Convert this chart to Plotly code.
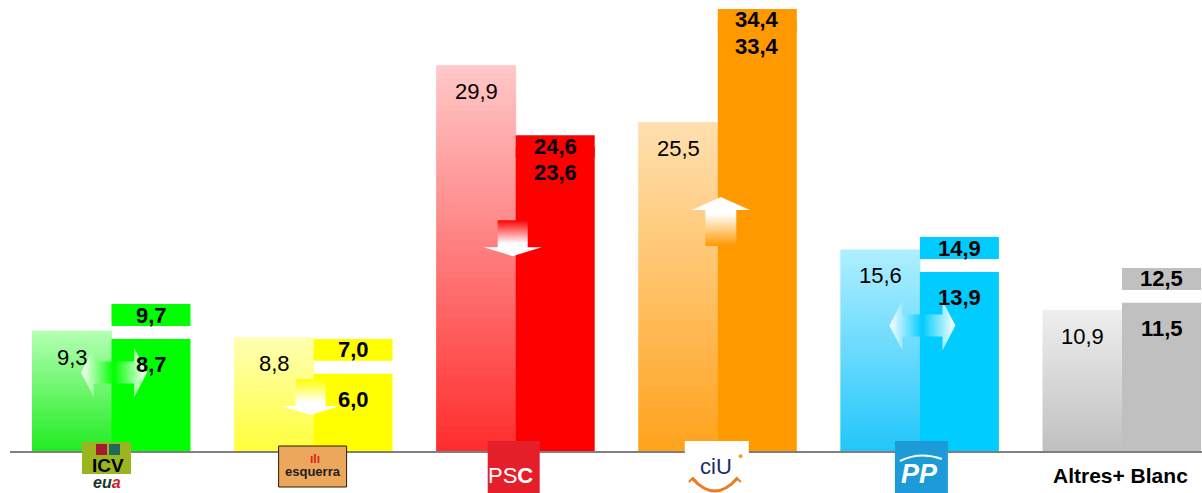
import plotly.graph_objects as go

# ---------------- data ----------------
parties = ["ICV-EUiA", "ERC", "PSC", "CiU", "PP", "Altres+ Blanc"]
prev_result = [9.3, 8.8, 29.9, 25.5, 15.6, 10.9]      # light bars
estimate_low = [8.7, 6.0, 23.6, 33.4, 13.9, 11.5]     # solid bars
estimate_high = [9.7, 7.0, 24.6, 34.4, 14.9, 12.5]    # label boxes
trend = ["both", "down", "down", "up", "both", ""]

# ---------------- style ----------------
solid = ["#00ff00", "#ffff00", "#ff0000", "#ff9900", "#00ccff", "#c0c0c0"]
light_top = [(178, 255, 178), (255, 255, 178), (255, 200, 200), (255, 224, 176), (176, 238, 255), (238, 238, 238)]
light_bot = [(34, 236, 34), (255, 255, 60), (255, 44, 44), (255, 162, 28), (34, 198, 250), (192, 192, 192)]

W, H = 1202, 493
ML, MR, MT, MB = 10, 0, 0, 42
YMAX = 35.0
PXX = 202.1                      # px per category
X0 = -(111.5 - ML) / PXX         # left range
X1 = X0 + (W - ML - MR) / PXX
PLOT_H = H - MT - MB
PLOT_W = W - ML - MR
PXY = PLOT_H / YMAX              # px per unit
BW = 79 / PXX
BOX_H = 1.7
FONT = "Liberation Sans, Arial, sans-serif"

def fmt(v):
    return f"{v:.1f}".replace(".", ",")

fig = go.Figure()

# light bars with vertical gradient (stacked thin slices)
N = 60
xs, bases, hs, cols = [], [], [], []
for i, v in enumerate(prev_result):
    for k in range(N):
        t = (k + 0.5) / N
        c = tuple(round(light_bot[i][j] + (light_top[i][j] - light_bot[i][j]) * t) for j in range(3))
        xs.append(i)
        bases.append(v * k / N)
        hs.append(v / N)
        cols.append(f"rgb{c}")
fig.add_trace(go.Bar(x=xs, y=hs, base=bases, width=BW, offset=-BW,
                     marker=dict(color=cols, line=dict(width=1, color=cols)),
                     hoverinfo="skip", showlegend=False))

# solid bars (lower estimate)
xi = list(range(len(parties)))
fig.add_trace(go.Bar(x=xi, y=estimate_low, width=BW, offset=0,
                     marker=dict(color=solid, line=dict(width=0)),
                     hoverinfo="skip", showlegend=False))

# label boxes (upper estimate): tall bars carry the box on their top edge
box_base = [lo - 0.8 if lo > 20 else hi for lo, hi in zip(estimate_low, estimate_high)]
fig.add_trace(go.Bar(x=xi, y=[BOX_H] * len(xi), base=box_base, width=BW, offset=0,
                     marker=dict(color=solid, line=dict(width=0)),
                     hoverinfo="skip", showlegend=False))

# arrows
def poly(cx, cy, pts):
    return ([cx + px / PXX for px, py in pts], [cy + py / PXY for px, py in pts])

down_pts = [(-15, 18), (15, 18), (15, -9), (29, -9), (0, -18), (-29, -9), (-15, -9), (-15, 18)]
up_pts = [(-15.5, -25), (15.5, -25), (15.5, 11), (29, 11), (0, 24), (-29, 11), (-15.5, 11), (-15.5, -25)]
both_pts = [(-33, 0), (-20, 25), (-20, 11), (20, 11), (20, 25), (33, 0), (20, -25), (20, -11),
            (-20, -11), (-20, -25), (-33, 0)]

for i, tr in enumerate(trend):
    if not tr:
        continue
    cy = 0.7 * min(prev_result[i], estimate_low[i])
    if tr == "down":
        ax, ay = poly(i - 3 / PXX, cy, down_pts)
        grad = dict(type="vertical", colorscale=[[0, "white"], [0.35, "white"], [1, solid[i]]])
    elif tr == "up":
        ax, ay = poly(i + 3 / PXX, cy, up_pts)
        grad = dict(type="vertical", colorscale=[[0, solid[i]], [0.65, "white"], [1, "white"]])
    else:
        ax, ay = poly(i + 2.5 / PXX, cy, both_pts)
        grad = dict(type="horizontal", colorscale=[[0, "white"], [0.5, solid[i]], [1, "white"]])
    fig.add_trace(go.Scatter(x=ax, y=ay, mode="lines", fill="toself", fillgradient=grad,
                             line=dict(width=0), hoverinfo="skip", showlegend=False))

ann = []
for i in xi:
    ann.append(dict(x=i - BW / 2, y=prev_result[i], yshift=-26, text=fmt(prev_result[i]),
                    showarrow=False, yanchor="middle", font=dict(size=22, color="black", family=FONT)))
    ann.append(dict(x=i + BW / 2, y=estimate_low[i], yshift=-26, text=f"<b>{fmt(estimate_low[i])}</b>",
                    showarrow=False, yanchor="middle", font=dict(size=22, color="black", family=FONT)))
    ann.append(dict(x=i + BW / 2, y=box_base[i] + BOX_H / 2, text=f"<b>{fmt(estimate_high[i])}</b>",
                    showarrow=False, yanchor="middle", font=dict(size=22, color="black", family=FONT)))

def pxp(i, dx):
    # category i plus a pixel offset, in paper units
    return (111.5 - ML + i * PXX + dx) / PLOT_W

def pyp(py):
    return (PLOT_H - py) / PLOT_H

def rect(i, left, top, w, h, color, border=None):
    return dict(type="rect", xref="paper", yref="paper", layer="above",
                x0=pxp(i, left), x1=pxp(i, left + w), y0=pyp(top + h), y1=pyp(top),
                fillcolor=color, line=dict(width=1 if border else 0, color=border or color))

def txt(i, xs, cy, text, size, color, family=FONT):
    return dict(x=i, xref="x", y=0, yref="paper", xshift=xs, yshift=PLOT_H - cy, yanchor="middle",
                text=text, showarrow=False, font=dict(size=size, color=color, family=family))

def curve(i, p0, pc, p1, color, width):
    return dict(type="path", xref="paper", yref="paper", layer="above",
                path=f"M {pxp(i, p0[0])},{pyp(p0[1])} Q {pxp(i, pc[0])},{pyp(pc[1])} {pxp(i, p1[0])},{pyp(p1[1])}",
                line=dict(color=color, width=width))

def polyline(i, pts, color, width):
    d = "M " + " L ".join(f"{pxp(i, x)},{pyp(y)}" for x, y in pts)
    return dict(type="path", xref="paper", yref="paper", layer="above", path=d,
                line=dict(color=color, width=width))

shapes = [
    # ICV logo
    rect(0, -29.5, 442, 49, 32, "#9ab51f"), rect(0, -29.5, 474, 49, 16, "white"),
    rect(0, -15.5, 444, 11, 11, "#a3192e"), rect(0, -2.5, 444, 11, 11, "#1e6b5a"),
    # ERC logo
    rect(1, -35, 446, 68, 41, "#eda75c", border="#2b1c06"),
    # PSC logo
    rect(2, -28, 441, 52, 52, "#e41f2a"),
    # CiU logo
    rect(3, -33, 441, 64, 52, "white"),
    curve(3, (-25, 479), (-3, 503), (19, 479), "#f07a22", 3),
    polyline(3, [(-29, 482), (-25, 478), (-21, 482)], "#f07a22", 2),
    polyline(3, [(15, 482), (19, 478), (23, 482)], "#f07a22", 2),
    # PP logo
    rect(4, -25, 441, 53, 52, "#1c9bd8"),
    curve(4, (-20, 461), (0, 451), (22, 459), "white", 2),
]

# logo texts
ann += [txt(0, -4, 465, "<b>ICV</b>", 19, "black"),
        txt(0, -5, 482, "<b><i>eu<span style='color:#d0202a'>a</span></i></b>", 16, "#16392a"),
        txt(1, 1, 459, "<b>ıIı</b>", 12, "#d8261c"),
        txt(1, -1, 471, "<b>esquerra</b>", 13, "#1e1e1e"),
        txt(2, -5, 475, "PS<b>C</b>", 22, "white"),
        txt(3, -2, 466, "ciU", 22, "#1b2d6b"),
        txt(3, 23, 456, "●", 9, "#f2a21e"),
        txt(4, 0, 474, "<b><i>PP</i></b>", 27, "white"),
        txt(5, -2, 475, "<b>Altres+ Blanc</b>", 21, "black")]

fig.update_layout(
    width=W, height=H, margin=dict(l=ML, r=MR, t=MT, b=MB),
    plot_bgcolor="white", paper_bgcolor="white", barmode="overlay",
    xaxis=dict(range=[X0, X1], showgrid=False, zeroline=False, showticklabels=False, ticks="",
               showline=True, linecolor="#7f7f7f", linewidth=2, fixedrange=True),
    yaxis=dict(range=[0, YMAX], visible=False, fixedrange=True),
    annotations=ann, shapes=shapes, showlegend=False,
)

fig.write_html("out.html", config={"displayModeBar": False},
               post_script="document.body.style.margin='0';")
